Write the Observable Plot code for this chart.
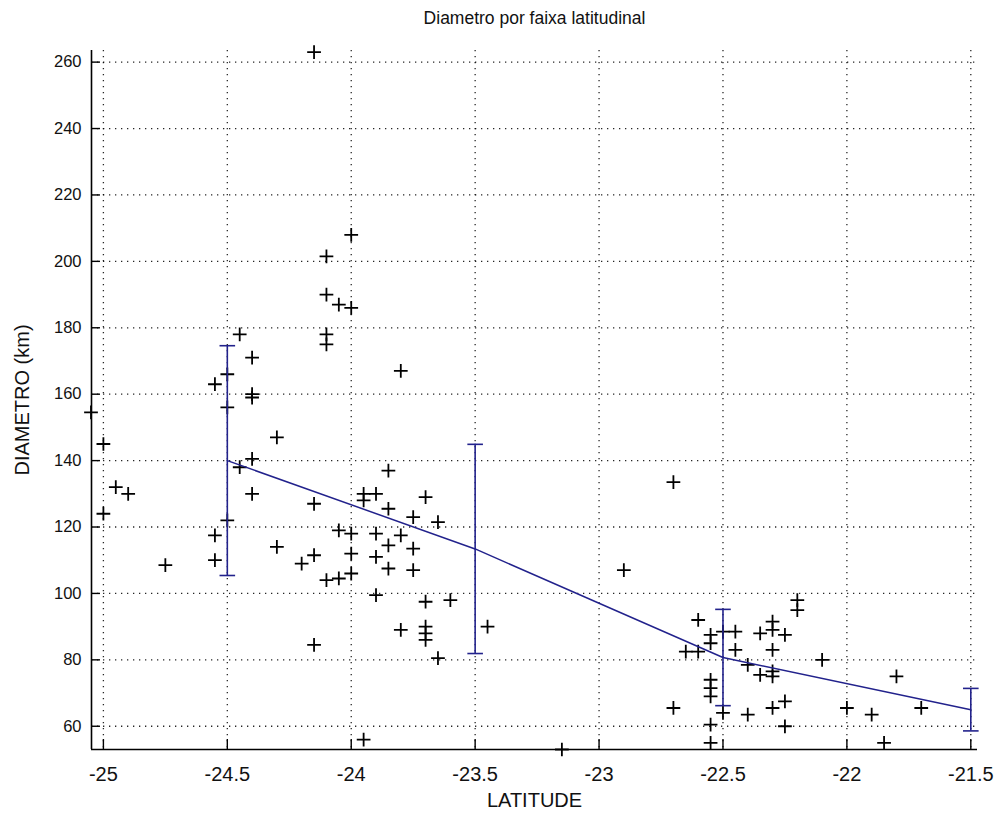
<!DOCTYPE html>
<html><head><meta charset="utf-8">
<script src="https://cdn.jsdelivr.net/npm/d3@7"></script>
<script src="https://cdn.jsdelivr.net/npm/@observablehq/plot@0.6"></script>
<style>
body{margin:0;background:#fff;}
#chart svg{display:block;font-family:"Liberation Sans",Arial,sans-serif;color:#000;}
</style>
</head><body><div id="chart"></div>
<script>
const title = "Diametro por faixa latitudinal";
const xLabel = "LATITUDE";
const yLabel = "DIAMETRO (km)";
const xTicks = [-25, -24.5, -24, -23.5, -23, -22.5, -22, -21.5];
const yTicks = [60, 80, 100, 120, 140, 160, 180, 200, 220, 240, 260];

const latitude = [
  -25.05, -25.0, -24.95, -24.9, -25.0, -24.75, -24.55, -24.55, -24.55, -24.45,
  -24.4, -24.4, -24.4, -24.3, -24.4, -24.45, -24.4, -24.3, -24.5, -24.5,
  -24.5, -24.15, -24.0, -24.1, -24.1, -24.05, -24.0, -24.1, -24.1, -23.8,
  -23.85, -23.95, -23.95, -23.9, -24.15, -23.85, -23.7, -23.75, -23.65, -24.05,
  -24.0, -23.9, -23.8, -23.85, -23.75, -24.15, -24.0, -23.9, -24.2, -23.85,
  -23.75, -24.1, -24.05, -24.0, -23.9, -23.7, -23.6, -23.8, -23.7, -23.7,
  -23.7, -24.15, -23.65, -23.45, -23.95, -23.15, -22.9, -22.7, -22.6, -22.55,
  -22.5, -22.45, -22.55, -22.45, -22.65, -22.6, -22.4, -22.55, -22.55, -22.55,
  -22.7, -22.5, -22.4, -22.55, -22.55, -22.35, -22.3, -22.3, -22.25, -22.3,
  -22.35, -22.3, -22.3, -22.3, -22.25, -22.25, -22.2, -22.2, -22.1, -21.8,
  -22.0, -21.9, -21.7, -21.85
];
const diameter = [
  154.5, 145, 132, 130, 124, 108.5, 117.5, 110, 163, 178,
  171, 160, 159, 147, 140.5, 138, 130, 114, 166, 156,
  122, 263, 208, 201.5, 190, 187, 186, 178, 175, 167,
  137, 130, 128, 130, 127, 125.5, 129, 123, 121.5, 119,
  118, 118, 117.5, 114.5, 113.5, 111.5, 112, 111, 109, 107.5,
  107, 104, 104.5, 106, 99.5, 97.5, 98, 89, 90, 88,
  86, 84.5, 80.5, 90, 56, 53, 107, 133.5, 92, 87.5,
  88.5, 88.5, 85, 83, 82.5, 82.5, 78.5, 74, 71.5, 69,
  65.5, 64, 63.5, 60.5, 55, 88, 91.5, 89, 87.5, 83,
  75.5, 76.5, 75, 65.5, 67.5, 60, 98, 95, 80, 75,
  65.5, 63.5, 65.5, 55
];

const bandLat = [-24.5, -23.5, -22.5, -21.5];
const bandMean = [140, 113.4, 80.7, 65];
const bandStd = [34.6, 31.5, 14.5, 6.4];

const points = latitude.map((x, i) => ({x, y: diameter[i]}));
const bands = bandLat.map((x, i) => ({x, mean: bandMean[i], lo: bandMean[i] - bandStd[i], hi: bandMean[i] + bandStd[i]}));

const blue = "#22228c";
const capSymbol = {draw(ctx, size) { const r = Math.sqrt(size); ctx.moveTo(-r, 0); ctx.lineTo(r, 0); }};
const xDomain = [-25.048, -21.473];
const yDomain = [53, 263.5];
const fmt = d => String(d);

const chart = Plot.plot({
  width: 994,
  height: 817,
  marginLeft: 91,
  marginRight: 17,
  marginTop: 50,
  marginBottom: 68,
  style: {background: "#fff", fontFamily: "'Liberation Sans', Arial, sans-serif"},
  x: {domain: xDomain},
  y: {domain: yDomain},
  marks: [
    Plot.gridX(xTicks, {stroke: "#000", strokeOpacity: 0.85, strokeWidth: 1.3, strokeDasharray: "1.3,4.7"}),
    Plot.gridY(yTicks, {stroke: "#000", strokeOpacity: 0.85, strokeWidth: 1.3, strokeDasharray: "1.3,4.7"}),
    Plot.ruleX([xDomain[0]], {stroke: "#000", strokeWidth: 1.6}),
    Plot.ruleY([yDomain[0]], {stroke: "#000", strokeWidth: 1.6}),
    Plot.axisX(xTicks, {tickSize: -10, tickFormat: () => "", label: null, strokeWidth: 1.4}),
    Plot.axisY(yTicks, {tickSize: -9, tickFormat: () => "", label: null, strokeWidth: 1.4}),
    Plot.axisX(xTicks, {tickSize: 0, tickPadding: 17, fontSize: 20, tickFormat: fmt, label: null, fill: "#111"}),
    Plot.axisY(yTicks, {tickSize: 0, tickPadding: 10, fontSize: 16.5, tickFormat: fmt, label: null, fill: "#111"}),
    Plot.dot(points, {x: "x", y: "y", symbol: "plus", r: 4.5, stroke: "#000", strokeWidth: 1.8}),
    Plot.line(bands, {x: "x", y: "mean", stroke: blue, strokeWidth: 1.5}),
    Plot.ruleX(bands, {x: "x", y1: "lo", y2: "hi", stroke: blue, strokeWidth: 1.6}),
    Plot.dot(bands, {x: "x", y: "lo", symbol: capSymbol, r: 4.4, fill: "none", stroke: blue, strokeWidth: 1.6}),
    Plot.dot(bands, {x: "x", y: "hi", symbol: capSymbol, r: 4.4, fill: "none", stroke: blue, strokeWidth: 1.6}),
    Plot.text([title], {frameAnchor: "top", dy: -32, lineAnchor: "middle", textAnchor: "middle", fontSize: 17.5, fill: "#111"}),
    Plot.text([xLabel], {frameAnchor: "bottom", dy: 51, lineAnchor: "middle", textAnchor: "middle", fontSize: 20, fill: "#111"}),
    Plot.text([yLabel], {frameAnchor: "left", dx: -69, rotate: -90, lineAnchor: "middle", textAnchor: "middle", fontSize: 20, fill: "#111"})
  ]
});
document.getElementById("chart").appendChild(chart);
</script>
</body></html>
